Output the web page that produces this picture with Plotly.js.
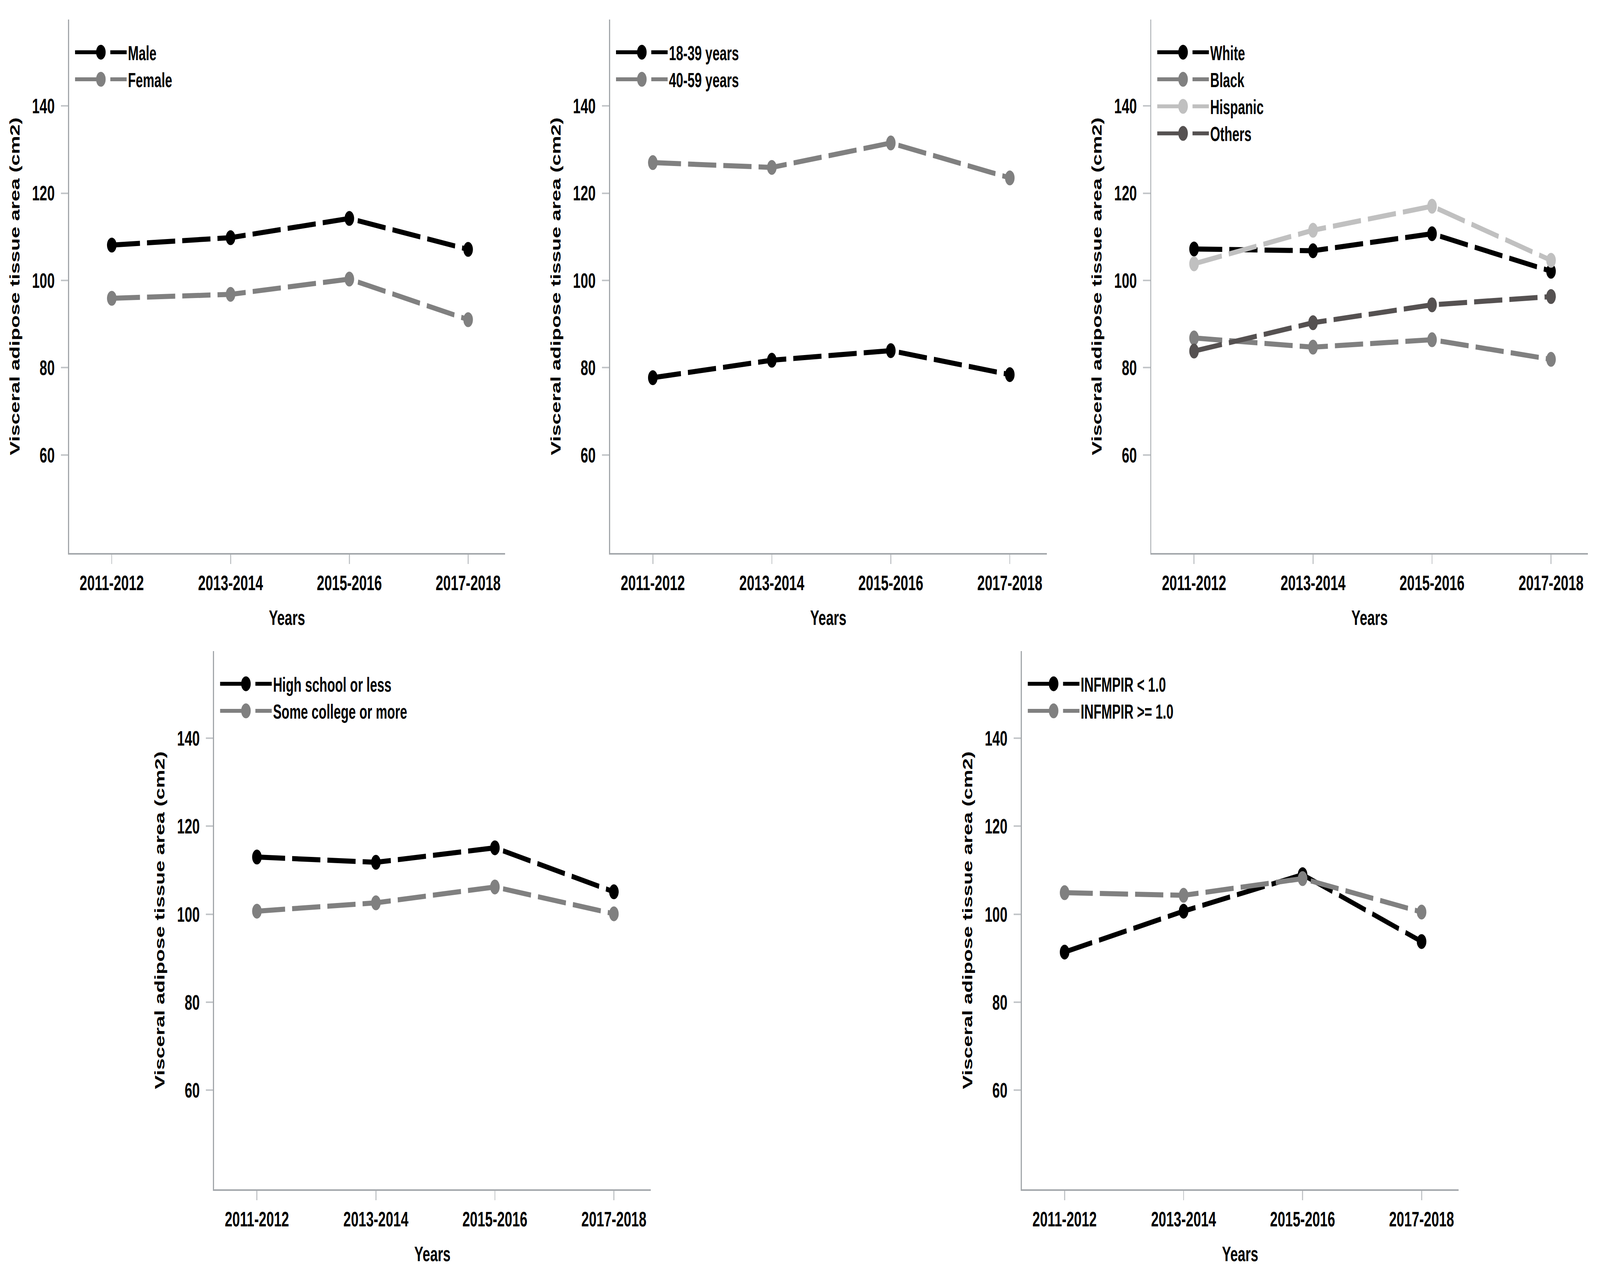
<!DOCTYPE html>
<html>
<head>
<meta charset="utf-8">
<script src="https://cdn.plot.ly/plotly-3.0.1.min.js"></script>
<style>
html,body{margin:0;padding:0;background:#fff;overflow:hidden;}
#chart{width:6353px;height:3267px;transform-origin:0 0;}
</style>
</head>
<body>
<div id="chart"></div>
<script>
// ---------- data ----------
const categories = ['2011-2012', '2013-2014', '2015-2016', '2017-2018'];
const yTicks = [60, 80, 100, 120, 140];

const male = [108.1, 109.8, 114.2, 107.1];
const female = [95.9, 96.8, 100.3, 91.0];

const age18to39 = [77.7, 81.7, 83.9, 78.4];
const age40to59 = [127.0, 125.9, 131.5, 123.5];

const white = [107.2, 106.8, 110.7, 102.1];
const black = [86.8, 84.7, 86.4, 81.9];
const hispanic = [103.8, 111.5, 117.0, 104.6];
const others = [83.8, 90.3, 94.4, 96.3];

const highSchoolOrLess = [113.0, 111.8, 115.1, 105.1];
const someCollegeOrMore = [100.7, 102.6, 106.2, 100.1];

const pirBelow1 = [91.4, 100.7, 109.0, 93.8];
const pirAtLeast1 = [104.9, 104.3, 108.1, 100.5];

const panelSeries = [
  [{name: 'Male', y: male}, {name: 'Female', y: female}],
  [{name: '18-39 years', y: age18to39}, {name: '40-59 years', y: age40to59}],
  [{name: 'White', y: white}, {name: 'Black', y: black}, {name: 'Hispanic', y: hispanic}, {name: 'Others', y: others}],
  [{name: 'High school or less', y: highSchoolOrLess}, {name: 'Some college or more', y: someCollegeOrMore}],
  [{name: 'INFMPIR &lt; 1.0', y: pirBelow1}, {name: 'INFMPIR &gt;= 1.0', y: pirAtLeast1}]
];

const yTitle = 'Visceral adipose tissue area (cm2)';
const xTitle = 'Years';

// ---------- styling ----------
const W = 6353, H = 3267;
// the chart is laid out at the reference size and fitted to the window
const fitX = (window.innerWidth || W) / W;
const fitY = (window.innerHeight || H) / H;
document.getElementById('chart').style.transform = 'scale(' + Math.min(1, fitX) + ',' + Math.min(1, fitY) + ')';

const colorSets = [
  ['#000000', '#808080'],
  ['#000000', '#808080'],
  ['#000000', '#808080', '#c0c0c0', '#555151'],
  ['#000000', '#808080'],
  ['#000000', '#808080']
];
// panel boxes in pixels: [left, right, top, bottom]
const boxes = [
  [274, 2005, 50, 1416],
  [2422, 4156, 50, 1416],
  [4571, 6305, 50, 1416],
  [850, 2584, 1667, 3045],
  [4057, 5791, 1667, 3045]
];
const FONT = 'Liberation Sans, Arial, Helvetica, sans-serif';
const axisColor = '#a3a7ab';
const tickColor = '#c3c6c9';

const traces = [];
const layout = {
  width: W, height: H,
  margin: {l: 0, r: 0, t: 0, b: 0},
  paper_bgcolor: '#ffffff',
  plot_bgcolor: '#ffffff',
  showlegend: true,
  font: {family: FONT, color: '#000000', size: 54, weight: 'bold'}
};

boxes.forEach((b, i) => {
  const n = i + 1;
  const suf = n === 1 ? '' : String(n);
  layout['xaxis' + suf] = {
    domain: [b[0] / W, b[1] / W],
    anchor: 'y' + suf,
    type: 'category',
    categoryorder: 'array',
    categoryarray: categories,
    range: [-0.36, 3.31],
    showline: true, linecolor: axisColor, linewidth: 4,
    showgrid: false, zeroline: false,
    ticks: 'outside', ticklen: 24, tickwidth: 4, tickcolor: tickColor,
    tickfont: {family: FONT, size: 54, color: '#000000', weight: 'bold'},
    ticklabelstandoff: 2,
    title: {text: xTitle, font: {family: FONT, size: 54, color: '#000000', weight: 'bold'}, standoff: 42},
    automargin: false,
    fixedrange: true
  };
  layout['yaxis' + suf] = {
    domain: [1 - b[3] / H, 1 - b[2] / H],
    anchor: 'x' + suf,
    range: [37.5, 159.8],
    tickmode: 'array', tickvals: yTicks,
    showline: true, linecolor: axisColor, linewidth: 4,
    showgrid: false, zeroline: false,
    ticks: 'outside', ticklen: 28, tickwidth: 4, tickcolor: tickColor,
    tickfont: {family: FONT, size: 54, color: '#000000', weight: 'bold'},
    ticklabelstandoff: 14,
    title: {text: yTitle, font: {family: FONT, size: 53, color: '#000000', weight: 'bold'}, standoff: 33},
    automargin: false,
    fixedrange: true
  };
  layout['legend' + suf] = {
    x: (b[0] + 19) / W,
    y: 1 - (b[2] + 44) / H,
    xanchor: 'left', yanchor: 'top',
    bgcolor: 'rgba(0,0,0,0)',
    borderwidth: 0,
    itemwidth: 205,
    itemsizing: 'trace',
    font: {family: FONT, size: 51, color: '#000000', weight: 'bold'},
    traceorder: 'normal'
  };
  panelSeries[i].forEach((ser, k) => {
    traces.push({
      type: 'scatter',
      mode: 'lines+markers',
      x: categories,
      y: ser.y,
      name: ser.name,
      xaxis: 'x' + suf,
      yaxis: 'y' + suf,
      legend: 'legend' + suf,
      line: {color: colorSets[i][k], width: 13, dash: '112px,28px'},
      marker: {color: colorSets[i][k], size: 38, symbol: 'circle'},
      cliponaxis: false,
      hoverinfo: 'skip'
    });
  });
});

Plotly.newPlot('chart', traces, layout, {displayModeBar: false, staticPlot: true}).then(gd => {
  // legend symbols in every legend: use the same marker size as the plotted points
  const r = 19;
  gd.querySelectorAll('.legendpoints path.scatterpts').forEach(p => {
    p.setAttribute('d', 'M' + r + ',0A' + r + ',' + r + ' 0 1,1 0,-' + r + 'A' + r + ',' + r + ' 0 0,1 ' + r + ',0Z');
  });
});
</script>
</body>
</html>
